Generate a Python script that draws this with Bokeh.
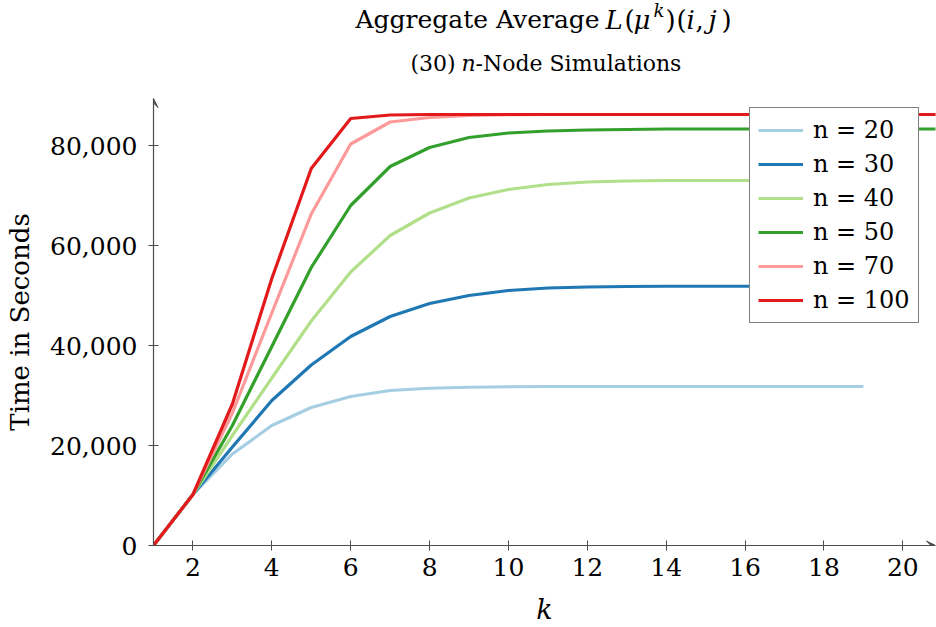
from bokeh.plotting import figure
from bokeh.layouts import column
from bokeh.models import (Range1d, NumeralTickFormatter, FixedTicker, Legend, LegendItem,
                          Arrow, VeeHead)
from bokeh.core.properties import value
from bokeh.embed import file_html
from bokeh.resources import INLINE

# ---- data ----
k_values = list(range(1, 22))
n20 = [0, 10200, 18300, 24000, 27600, 29800, 31000, 31450, 31650, 31750, 31800, 31800,
       31800, 31800, 31800, 31800, 31800, 31800, 31800]
n30 = [0, 10200, 19700, 29000, 36100, 41800, 45800, 48400, 50000, 51000, 51500, 51700,
       51800, 51850, 51850, 51850, 51850, 51850, 51850, 51850]
n40 = [0, 10200, 22000, 33500, 44900, 54700, 62000, 66500, 69500, 71200, 72200, 72700,
       72900, 73000, 73000, 73000, 73000, 73000, 73000, 73000]
n50 = [0, 10200, 24000, 39800, 55600, 68000, 75800, 79600, 81600, 82500, 82900, 83100,
       83200, 83300, 83300, 83300, 83300, 83300, 83300, 83300, 83300]
n70 = [0, 10200, 26500, 46500, 66300, 80300, 84700, 85600, 86000, 86150, 86200, 86200,
       86200, 86200, 86200, 86200, 86200, 86200, 86200, 86200, 86200]
n100 = [0, 10200, 28300, 53400, 75400, 85400, 86100, 86200, 86200, 86200, 86200, 86200,
        86200, 86200, 86200, 86200, 86200, 86200, 86200, 86200, 86200]
series_labels = ["n = 20", "n = 30", "n = 40", "n = 50", "n = 70", "n = 100"]
series_values = [n20, n30, n40, n50, n70, n100]
series_colors = ["#a6cee3", "#1f78b4", "#b2df8a", "#33a02c", "#fb9a99", "#e31a1c"]
x_ticks = list(range(2, 21, 2))
y_ticks = [0, 20000, 40000, 60000, 80000]

# ---- layout constants (pixels) ----
W, H = 936, 627
HEAD = 90                       # height of the title strip
LEFT, RIGHT, TOP, BOTTOM = 153, 935, 98, 545
PX_PER_K = 39.44
X_END = 1 + (RIGHT - LEFT) / PX_PER_K
Y_END = (BOTTOM - TOP) * 200.0

FONT = "DejaVu Serif"
AX = "#4d4d4d"

# ---- title strip (its frame is aligned with the main frame horizontally) ----
t = figure(width=W, height=HEAD, output_backend="svg", toolbar_location=None,
           x_range=Range1d(LEFT, RIGHT), y_range=Range1d(HEAD, 0),
           min_border_left=LEFT, min_border_right=W - RIGHT,
           min_border_top=0, min_border_bottom=0,
           x_axis_type=None, y_axis_type=None)
t.outline_line_color = None
t.grid.visible = False

def piece(text, px, py, size="25px", style="normal"):
    t.text(x=[px], y=[py], text=[text], text_font=value(FONT),
           text_font_size=value(size), text_font_style=style,
           text_align="left", text_baseline="alphabetic", text_color="black")

TB = 19
piece("Aggregate Average", 355, TB)
piece("L", 605, TB, size="26px", style="italic")
piece("(", 624, TB, size="26px")
piece("μ", 633, TB, size="26px", style="italic")
piece("k", 653, 9.5, size="18px", style="italic")
piece(")", 665, TB, size="26px")
piece("(", 676, TB, size="26px")
piece("i", 686, TB, size="26px", style="italic")
piece(",", 695, TB, size="26px")
piece("j", 708, TB, size="26px", style="italic")
piece(")", 721, TB, size="26px")

SB = 63
piece("(30)", 410, SB, size="22px")
piece("n", 461, SB, size="22px", style="italic")
piece("-Node Simulations", 475, SB, size="22px")

# ---- main plot ----
p = figure(width=W, height=H - HEAD, output_backend="svg", toolbar_location=None,
           x_range=Range1d(1, X_END), y_range=Range1d(0, Y_END),
           min_border_left=LEFT, min_border_right=W - RIGHT,
           min_border_top=TOP - HEAD, min_border_bottom=H - BOTTOM)
p.outline_line_color = None
p.grid.visible = False
p.background_fill_color = "white"
p.border_fill_color = "white"

renderers = []
for lab, vals, col in zip(series_labels, series_values, series_colors):
    r = p.line(k_values[:len(vals)], vals, line_color=col, line_width=3.2)
    renderers.append((lab, r))

for ax in (p.xaxis[0], p.yaxis[0]):
    ax.axis_line_color = AX
    ax.axis_line_width = 1.2
    ax.major_tick_line_color = AX
    ax.major_tick_in = 5
    ax.major_tick_out = 5
    ax.minor_tick_line_color = None
    ax.major_label_text_font = FONT
    ax.major_label_text_font_size = "25px"
    ax.major_label_text_color = "black"
    ax.axis_label_text_font = FONT
    ax.axis_label_text_color = "black"

p.xaxis.ticker = FixedTicker(ticks=x_ticks)
p.yaxis.ticker = FixedTicker(ticks=y_ticks)
p.yaxis.formatter = NumeralTickFormatter(format="0,0")
p.xaxis.major_label_standoff = 7
p.yaxis.major_label_standoff = 11
p.xaxis.axis_label = "k"
p.xaxis.axis_label_text_font_style = "italic"
p.xaxis.axis_label_text_font_size = "27px"
p.xaxis.axis_label_standoff = 15
p.yaxis.axis_label = "Time in Seconds"
p.yaxis.axis_label_text_font_style = "normal"
p.yaxis.axis_label_text_font_size = "26px"
p.yaxis.axis_label_standoff = 12

p.add_layout(Arrow(end=VeeHead(size=9, line_color=AX, fill_color=AX, line_width=1),
                   x_start=1, y_start=0, x_end=1, y_end=Y_END, line_alpha=0))
p.add_layout(Arrow(end=VeeHead(size=9, line_color=AX, fill_color=AX, line_width=1),
                   x_start=1, y_start=0, x_end=X_END, y_end=0, line_alpha=0))

legend = Legend(items=[LegendItem(label=lab, renderers=[r]) for lab, r in renderers],
                location=(749 - LEFT, BOTTOM - 323),
                label_text_font=FONT, label_text_font_size="24px", label_text_color="black",
                glyph_width=45, glyph_height=28, label_height=28, label_standoff=10,
                spacing=6, padding=8, margin=0,
                border_line_color="black", border_line_width=1,
                background_fill_color="white", background_fill_alpha=1)
p.add_layout(legend)

page = column(t, p, spacing=0)
open("out.html", "w").write(file_html(page, INLINE))
